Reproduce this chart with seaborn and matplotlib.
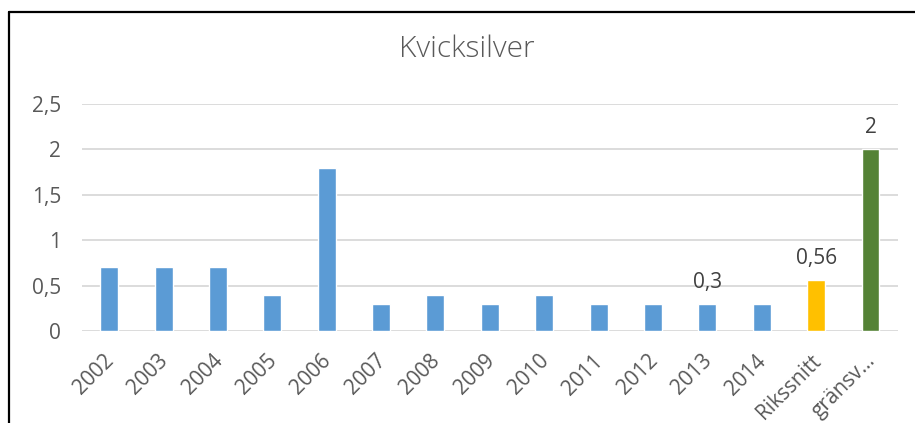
import matplotlib
matplotlib.use("Agg")
import matplotlib.pyplot as plt
import matplotlib.transforms as mtransforms
import seaborn as sns
from matplotlib.lines import Line2D

categories = ["2002", "2003", "2004", "2005", "2006", "2007", "2008", "2009",
              "2010", "2011", "2012", "2013", "2014", "Rikssnitt", "gränsv…"]
values = [0.7, 0.7, 0.7, 0.4, 1.8, 0.3, 0.4, 0.3, 0.4, 0.3, 0.3, 0.3, 0.3, 0.56, 2.0]
bar_colors = ["#5B9BD5"] * 13 + ["#FFC000", "#548235"]
labelled = {"2013": "0,3", "Rikssnitt": "0,56", "gränsv…": "2"}
yticks = [0, 0.5, 1, 1.5, 2, 2.5]
ytick_labels = ["0", "0,5", "1", "1,5", "2", "2,5"]


def plot_chart():
    sns.set_style("white")
    plt.rcParams["font.family"] = ["Open Sans", "DejaVu Sans"]

    fig = plt.figure(figsize=(9.15, 4.23), dpi=100)
    ax = fig.add_axes([0.0896, 0.2175, 0.8915, 0.5365])

    sns.barplot(x=categories, y=values, hue=categories, palette=bar_colors,
                width=0.33, legend=False, saturation=1, ax=ax)

    ax.set_ylim(0, 2.5)
    ax.set_xlim(-0.5, len(categories) - 0.5)
    ax.set_yticks(yticks)
    ax.set_yticklabels(ytick_labels)
    ax.yaxis.grid(True, color="#D9D9D9", linewidth=1.3)
    ax.set_axisbelow(True)
    for s in ax.spines.values():
        s.set_visible(False)
    ax.tick_params(axis="both", length=0, labelsize=15, colors="#595959")
    ax.tick_params(axis="y", pad=15)
    ax.tick_params(axis="x", pad=14)
    shift = mtransforms.ScaledTranslation(-6 / 100, 0, fig.dpi_scale_trans)
    for lab in ax.get_xticklabels():
        lab.set_rotation(45)
        lab.set_ha("right")
        lab.set_rotation_mode("anchor")
        lab.set_transform(lab.get_transform() + shift)

    for i, cat in enumerate(categories):
        if cat in labelled:
            ax.annotate(labelled[cat], (i, values[i]), xytext=(0, 8),
                        textcoords="offset points", ha="center", va="bottom",
                        fontsize=15, color="#404040")

    fig.text(0.51, 0.884, "Kvicksilver", ha="center", va="center",
             fontsize=21.5, fontweight="light", color="#595959")

    # frame of the original embedded chart (left and top edges only)
    fig.add_artist(Line2D([0.0098, 0.0098], [0, 0.972], color="black",
                          linewidth=1.6, transform=fig.transFigure))
    fig.add_artist(Line2D([0.0098, 1], [0.972, 0.972], color="black",
                          linewidth=1.6, transform=fig.transFigure))

    fig.savefig("out.png", dpi=100)


if __name__ == "__main__":
    plot_chart()
